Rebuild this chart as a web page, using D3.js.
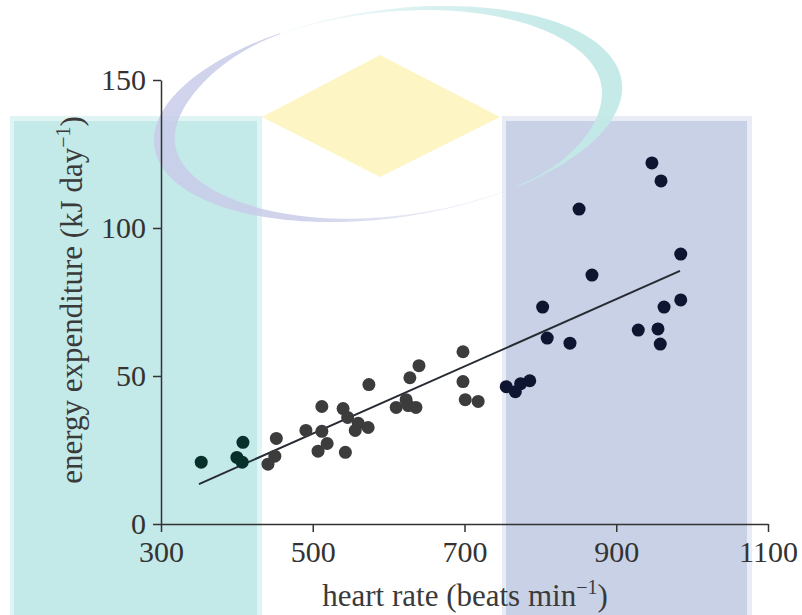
<!DOCTYPE html>
<meta charset="utf-8">
<style>
  body { margin: 0; background: #fff; }
  svg { display: block; font-family: "Liberation Serif", "Times New Roman", serif; }
  .axis path, .axis line { stroke: #333; stroke-width: 1.5; }
  .axis text { font-size: 30px; fill: #333; font-family: "Liberation Serif", serif; }
  .label { font-size: 31px; fill: #3a3a3a; }
</style>
<body>
<script src="https://d3js.org/d3.v7.min.js"></script>
<script>
// heart rate (beats min-1) vs daily energy expenditure (kJ day-1)
var heartRate = [353, 408, 400, 407, 452, 450, 441, 491, 512, 512, 519, 507, 543, 540, 546, 560, 556, 573, 574,
                 610, 623, 628, 640, 626, 636, 698, 698, 701, 718, 755, 767, 774, 786, 803, 809,
                 947, 959, 851, 985, 868, 985, 963, 839, 929, 955, 958];
var energy = [20.9, 27.6, 22.5, 20.9, 28.9, 22.9, 20.2, 31.6, 39.7, 31.3, 27.2, 24.6, 24.2, 39.0, 36.0, 34.0, 31.6, 32.6, 47.1,
              39.4, 42.0, 49.4, 53.5, 40.0, 39.4, 58.2, 48.1, 42.0, 41.4, 46.4, 44.7, 47.4, 48.4, 73.3, 62.8,
              122.0, 115.9, 106.4, 91.2, 84.1, 75.7, 73.3, 61.1, 65.5, 65.9, 60.8];
var fitX = [350, 984];
var fitY = [13.5, 85.5];
var xTicks = [300, 500, 700, 900, 1100];
var yTicks = [0, 50, 100, 150];

var width = 802, height = 615;

var svg = d3.select("body").append("svg")
    .attr("width", width)
    .attr("height", height);

var x = d3.scaleLinear().domain([300, 1100]).range([161, 768]);
var y = d3.scaleLinear().domain([0, 150]).range([524, 80]);

// shaded panels behind the plot
var panels = [
  {x0: 10, x1: 262, fill: "#c3e9e8", edge: "#e0f4f3"},
  {x0: 502, x1: 752, fill: "#c9d1e6", edge: "#e9ecf5"}
];
panels.forEach(function (p) {
  svg.append("rect").attr("x", p.x0).attr("y", 116).attr("width", p.x1 - p.x0).attr("height", height - 116)
      .attr("fill", p.edge);
  svg.append("rect").attr("x", p.x0 + 4).attr("y", 121).attr("width", p.x1 - p.x0 - 9).attr("height", height - 121)
      .attr("fill", p.fill);
});

// faint watermark: two crescents and a diamond
var defs = svg.append("defs");
var g1 = defs.append("linearGradient").attr("id", "fadeTeal")
    .attr("gradientUnits", "userSpaceOnUse").attr("x1", 270).attr("x2", 560).attr("y1", 0).attr("y2", 0);
g1.append("stop").attr("offset", 0).attr("stop-color", "#c2e9e7").attr("stop-opacity", 0.05);
g1.append("stop").attr("offset", 0.5).attr("stop-color", "#c2e9e7").attr("stop-opacity", 0.6);
g1.append("stop").attr("offset", 1).attr("stop-color", "#c2e9e7").attr("stop-opacity", 0.95);
var g2 = defs.append("linearGradient").attr("id", "fadeLav")
    .attr("gradientUnits", "userSpaceOnUse").attr("x1", 300).attr("x2", 510).attr("y1", 0).attr("y2", 0);
g2.append("stop").attr("offset", 0).attr("stop-color", "#c8cce8").attr("stop-opacity", 0.85);
g2.append("stop").attr("offset", 1).attr("stop-color", "#c8cce8").attr("stop-opacity", 0.15);

function crescent(a0, a1, wmax, k, sharp) {
  var cx = 388, cy = 114, rx = 236, ry = 104, rot = -8 * Math.PI / 180;
  var outer = [], inner = [];
  for (var i = 0; i <= 90; i++) {
    var u = i / 90, t = (a0 + (a1 - a0) * u) * Math.PI / 180;
    var w = 1 + wmax * Math.pow(Math.sin(Math.PI * Math.pow(u, k)), sharp);
    [[rx, ry, outer], [rx - w, ry - w, inner]].forEach(function (r) {
      var px = r[0] * Math.cos(t), py = r[1] * Math.sin(t);
      r[2].push([cx + px * Math.cos(rot) - py * Math.sin(rot), cy + px * Math.sin(rot) + py * Math.cos(rot)]);
    });
  }
  return d3.line()(outer.concat(inner.reverse())) + "Z";
}

svg.append("path").attr("d", crescent(-150, 60, 20, 1.9, 2.2)).attr("fill", "url(#fadeTeal)");
svg.append("path").attr("d", crescent(62, 246, 20, 1.6, 1.8)).attr("fill", "url(#fadeLav)");
svg.append("path").attr("d", "M262,117L380,55L500,117L380,177Z").attr("fill", "#fdf6c4");

// axes
svg.append("g").attr("class", "axis")
    .attr("transform", "translate(0,524)")
    .call(d3.axisBottom(x).tickValues(xTicks).tickFormat(d3.format("d"))
      .tickSize(8).tickSizeOuter(0).tickPadding(9));
svg.append("g").attr("class", "axis")
    .attr("transform", "translate(161,0)")
    .call(d3.axisLeft(y).tickValues(yTicks).tickSize(8).tickSizeOuter(0).tickPadding(7));

// fitted line
svg.append("line")
    .attr("x1", x(fitX[0])).attr("y1", y(fitY[0]))
    .attr("x2", x(fitX[1])).attr("y2", y(fitY[1]))
    .attr("stroke", "#262b33").attr("stroke-width", 2);

// points, darker where they sit on a shaded panel
function dotColor(px) {
  if (px < 258) return "#07302b";
  if (px > 503 && px < 750) return "#0d1531";
  return "#3c3c3c";
}
svg.append("g").selectAll("circle")
    .data(heartRate)
    .enter().append("circle")
    .attr("cx", function (d) { return x(d); })
    .attr("cy", function (d, i) { return y(energy[i]); })
    .attr("r", 6.5)
    .attr("fill", function (d) { return dotColor(x(d)); });

// axis titles
var xl = svg.append("text").attr("class", "label")
    .attr("x", 465).attr("y", 606).attr("text-anchor", "middle");
xl.append("tspan").text("heart rate (beats min");
xl.append("tspan").attr("dy", -12).style("font-size", "20px").text("−1");
xl.append("tspan").attr("dy", 12).text(")");

var yl = svg.append("text").attr("class", "label")
    .attr("transform", "translate(82,300) rotate(-90)").attr("text-anchor", "middle");
yl.append("tspan").text("energy expenditure (kJ day");
yl.append("tspan").attr("dy", -12).style("font-size", "20px").text("−1");
yl.append("tspan").attr("dy", 12).text(")");
</script>
</body>
</html>
